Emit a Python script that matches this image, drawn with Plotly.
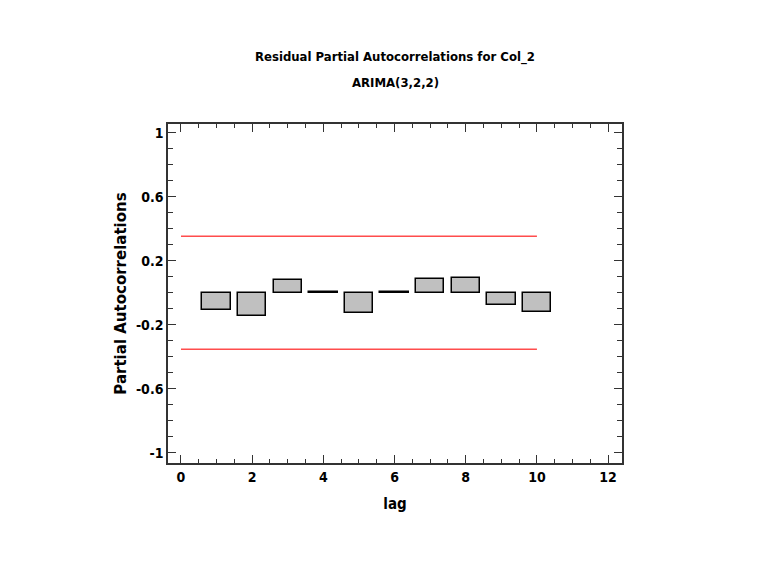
import plotly.graph_objects as go

lags = [1, 2, 3, 4, 5, 6, 7, 8, 9, 10]
pacf = [-0.108, -0.146, 0.077, 0.004, -0.129, 0.003, 0.083, 0.092, -0.075, -0.123]
limit_x = [0, 10]
upper_limit = [0.353, 0.353]
lower_limit = [-0.353, -0.353]
y_tickvals = [1, 0.6, 0.2, -0.2, -0.6, -1]
y_ticktext = ["1", "0.6", "0.2", "-0.2", "-0.6", "-1"]
x_tickvals = [0, 2, 4, 6, 8, 10, 12]
title_lines = ["Residual Partial Autocorrelations for Col_2", "ARIMA(3,2,2)"]

narrow = "DejaVu Sans Condensed, Liberation Sans Narrow, Arial Narrow, Liberation Sans, sans-serif"

W, H = 767, 578
ML, MR, MT, MB = 160, 153, 116, 123

fig = go.Figure()
fig.add_trace(go.Bar(x=lags, y=pacf, width=0.8,
                     marker=dict(color="#c0c0c0", line=dict(color="black", width=1.5)),
                     showlegend=False))
fig.add_trace(go.Scatter(x=limit_x, y=upper_limit, mode="lines",
                         line=dict(color="#ff4d4d", width=1.5), showlegend=False))
fig.add_trace(go.Scatter(x=limit_x, y=lower_limit, mode="lines",
                         line=dict(color="#ff4d4d", width=1.5), showlegend=False))

fig.update_layout(
    template="none",
    width=W, height=H,
    margin=dict(l=ML, r=MR, t=MT, b=MB),
    paper_bgcolor="white", plot_bgcolor="white",
    bargap=0,
)
plot_h = H - MT - MB
for txt, ypix in zip(title_lines, [49, 75]):
    fig.add_annotation(text=f"<b>{txt}</b>", xref="paper", yref="paper",
                       x=0.5, y=(H - ypix - MB) / plot_h,
                       xanchor="center", yanchor="middle", showarrow=False,
                       font=dict(family=narrow, size=13, color="black"))

fig.update_xaxes(range=[-0.365, 12.39], tickvals=x_tickvals,
                 ticktext=[f"<b>{v}</b>" for v in x_tickvals],
                 ticks="inside", ticklen=8, tickwidth=1, tickcolor="#333",
                 minor=dict(dtick=0.5, tick0=0, ticks="inside", ticklen=4, tickcolor="#333"),
                 showline=True, linecolor="#333", linewidth=1.5, mirror="ticks",
                 showgrid=False, zeroline=False, automargin=False,
                 tickfont=dict(family=narrow, size=14, color="black"),
                 title=dict(text="<b>lag</b>", font=dict(family=narrow, size=15, color="black"), standoff=15))
fig.update_yaxes(range=[-1.064, 1.054], tickvals=y_tickvals,
                 ticktext=[f"<b>{t}</b>" for t in y_ticktext],
                 ticks="inside", ticklen=8, tickwidth=1, tickcolor="#333",
                 minor=dict(dtick=0.1, tick0=0, ticks="inside", ticklen=5, tickcolor="#333"),
                 showline=True, linecolor="#333", linewidth=1.5, mirror="ticks",
                 showgrid=False, zeroline=False, automargin=False,
                 tickfont=dict(family=narrow, size=14, color="black"),
                 title=dict(text="<b>Partial Autocorrelations</b>",
                            font=dict(family="DejaVu Sans, sans-serif", size=15, color="black"),
                            standoff=6))

fig.write_html("out.html")
